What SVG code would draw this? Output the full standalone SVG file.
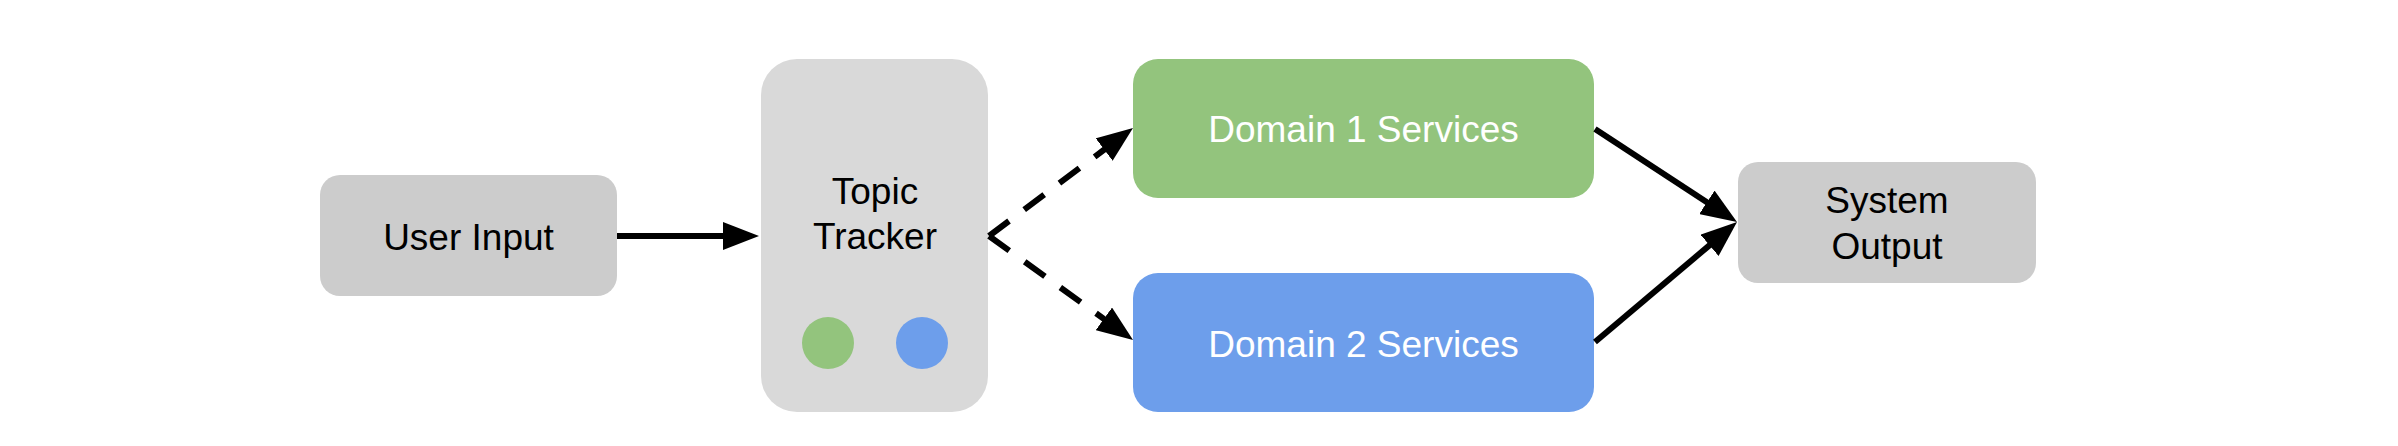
<svg xmlns="http://www.w3.org/2000/svg" width="2398" height="446" viewBox="0 0 2398 446">
<style>
.lbl{font-family:"Liberation Sans",Arial,sans-serif;font-size:37px;text-anchor:middle;fill:#000}
.wht{fill:#fff}
.edge{fill:none;stroke:#000;stroke-width:6}
.dash{stroke-dasharray:25 19}
</style>
<defs>
<marker id="ah" viewBox="0 0 36 28" refX="6" refY="14" markerWidth="36" markerHeight="28" markerUnits="userSpaceOnUse" orient="auto">
<path d="M0,0 L36,14 L0,28 Z" fill="#000"/>
</marker>
</defs>
<rect width="2398" height="446" fill="#fff"/>
<g id="user-input">
<rect x="320" y="175" width="297" height="121" rx="20" fill="#cccccc"/>
<text class="lbl" x="468.5" y="250">User Input</text>
</g>
<g id="topic-tracker">
<rect x="761" y="59" width="227" height="353" rx="36" fill="#d9d9d9"/>
<text class="lbl" x="875" y="204">Topic</text>
<text class="lbl" x="875" y="249">Tracker</text>
<circle cx="828" cy="343" r="26" fill="#93c47d"/>
<circle cx="922" cy="343" r="26" fill="#6d9eeb"/>
</g>
<g id="domain1">
<rect x="1133" y="59" width="461" height="139" rx="25" fill="#93c47d"/>
<text class="lbl wht" x="1363.5" y="142">Domain 1 Services</text>
</g>
<g id="domain2">
<rect x="1133" y="273" width="461" height="139" rx="25" fill="#6d9eeb"/>
<text class="lbl wht" x="1363.5" y="357">Domain 2 Services</text>
</g>
<g id="system-output">
<rect x="1738" y="162" width="298" height="121" rx="20" fill="#cccccc"/>
<text class="lbl" x="1887" y="213">System</text>
<text class="lbl" x="1887" y="259">Output</text>
</g>
<g id="connectors">
<path class="edge" d="M617,236 L729,236" marker-end="url(#ah)"/>
<path class="edge dash" d="M989,236 L1109,146" marker-end="url(#ah)"/>
<path class="edge dash" d="M989,236 L1108.7,322.4" marker-end="url(#ah)"/>
<path class="edge" d="M1595,129 L1711.9,205.6" marker-end="url(#ah)"/>
<path class="edge" d="M1595,342 L1714.1,241.4" marker-end="url(#ah)"/>
</g>
</svg>
